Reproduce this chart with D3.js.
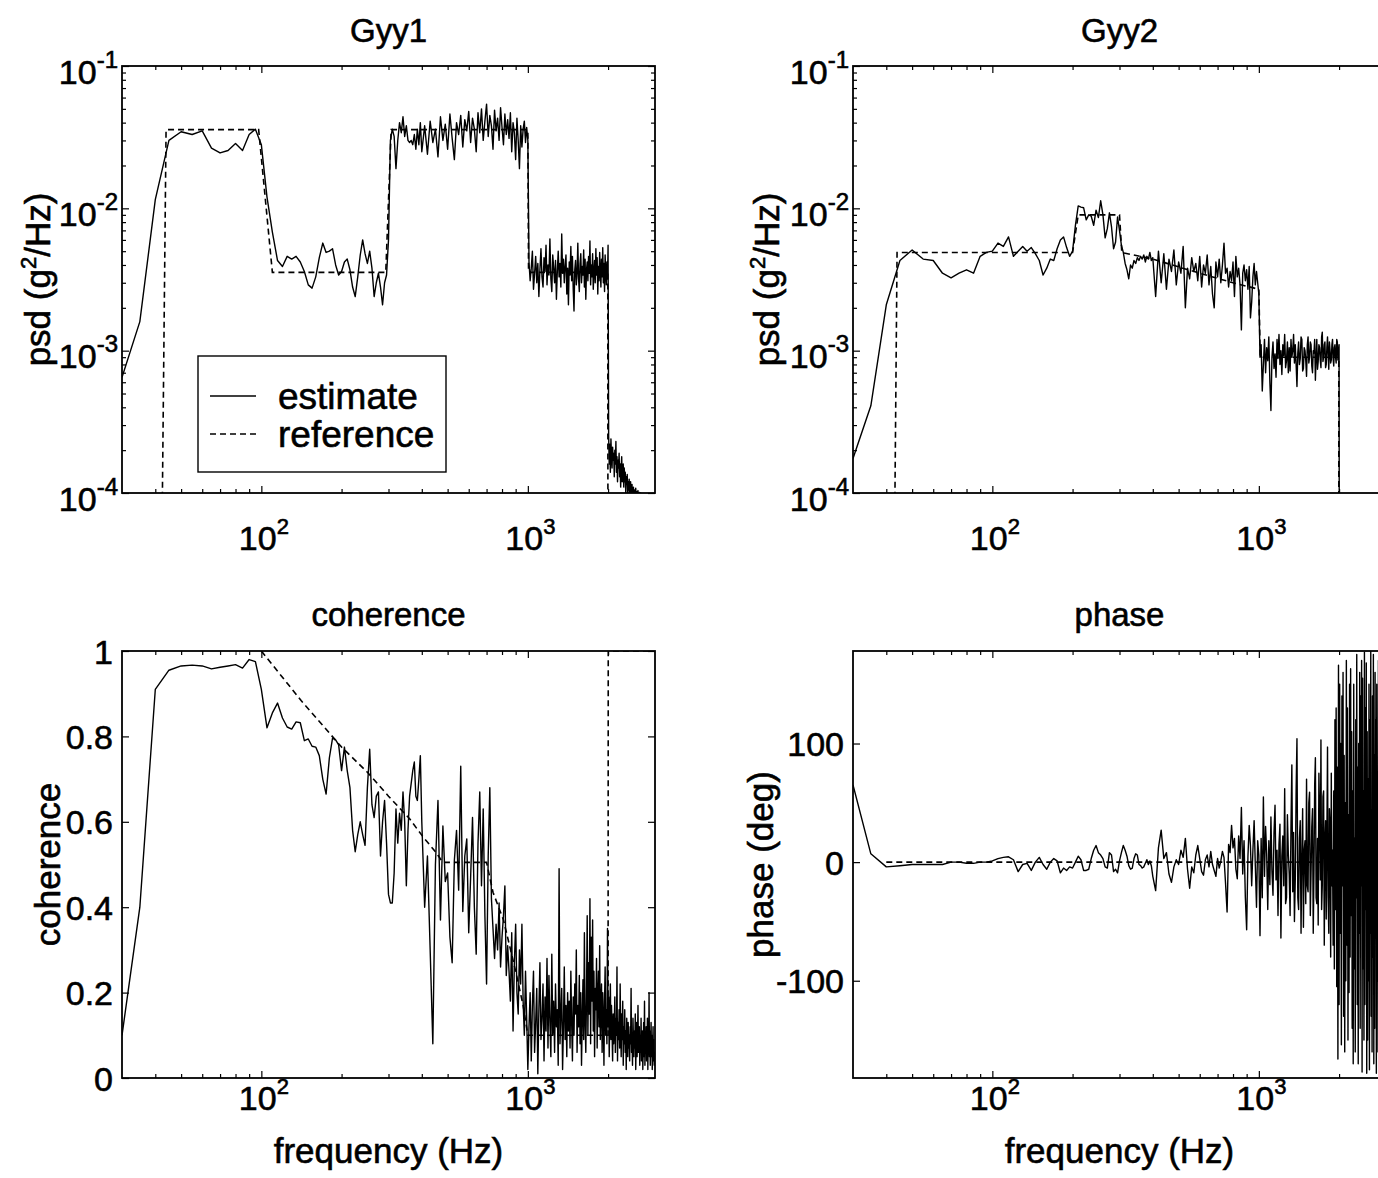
<!DOCTYPE html>
<html><head><meta charset="utf-8">
<script src="https://cdn.jsdelivr.net/npm/d3@7"></script>
<style>
body{margin:0;background:#fff;}
svg text{font-family:"Liberation Sans",Arial,Helvetica,sans-serif;fill:#000;stroke:#000;stroke-width:0.6px;}
</style></head><body>
<svg id="chart" width="1378" height="1178"></svg>
<script>
// ---------- frequency grid (Hz) ----------
const freqLow = [30,35,40,45,50,55,60,65,70,75,80,85,90,95,100,105,110,115,120,125,130,135,140,145,150,155,160,165,170,175,180,185,190,195,200,205,210,215,220,225,230,235,240,245,250,255,260,265,270,275,280,285,290,295,300,305,310,315,320,325,330,335,340,345,350,355,360,365,370,375,380,385,390,395,400];
const freqMid = [410,420,430,440,450,460,470,480,490,500,510,520,530,540,550,560,570,580,590,600,610,620,630,640,650,660,670,680,690,700,710,720,730,740,750,760,770,780,790,800,810,820,830,840,850,860,870,880,890,900,910,920,930,940,950,960,970,980,990,1000];
const freqHigh = [
 1010,1020,1030,1040,1050,1060,1070,1080,1090,1100,1110,1120,1130,1140,1150,1160,1170,1180,1190,1200,
 1210,1220,1230,1240,1250,1260,1270,1280,1290,1300,1310,1320,1330,1340,1350,1360,1370,1380,1390,1400,
 1410,1420,1430,1440,1450,1460,1470,1480,1490,1500,1510,1520,1530,1540,1550,1560,1570,1580,1590,1600,
 1610,1620,1630,1640,1650,1660,1670,1680,1690,1700,1710,1720,1730,1740,1750,1760,1770,1780,1790,1800,
 1810,1820,1830,1840,1850,1860,1870,1880,1890,1900,1910,1920,1930,1940,1950,1960,1970,1980,1990,2000,
 2010,2020,2030,2040,2050,2060,2070,2080,2090,2100,2110,2120,2130,2140,2150,2160,2170,2180,2190,2200,
 2210,2220,2230,2240,2250,2260,2270,2280,2290,2300,2310,2320,2330,2340,2350,2360,2370,2380,2390,2400,
 2410,2420,2430,2440,2450,2460,2470,2480,2490,2500,2510,2520,2530,2540,2550,2560,2570,2580,2590,2600,
 2610,2620,2630,2640,2650,2660,2670,2680,2690,2700,2710,2720,2730,2740,2750,2760,2770,2780,2790,2800,
 2810,2820,2830,2840,2850,2860,2870,2880,2890,2900,2910,2920,2930,2940,2950,2960,2970,2980,2990,3000];

// ---------- Gyy1 estimate (g^2/Hz) ----------
const gyy1Estimate = [
 6.5e-4,1.6e-3,1.15e-2,3.0e-2,3.45e-2,3.3e-2,3.5e-2,2.65e-2,2.45e-2,2.55e-2,
 2.85e-2,2.55e-2,3.3e-2,3.6e-2,2.8e-2,1.2e-2,6.8e-3,4.3e-3,3.9e-3,4.6e-3,
 4.4e-3,4.6e-3,4.2e-3,3.6e-3,2.9e-3,2.75e-3,3.3e-3,4.5e-3,5.7e-3,4.9e-3,
 5.0e-3,5.2e-3,4.0e-3,3.4e-3,3.6e-3,4.2e-3,4.4e-3,3.7e-3,2.8e-3,2.4e-3,
 3.3e-3,4.7e-3,6.0e-3,4.8e-3,4.1e-3,5.0e-3,3.8e-3,2.4e-3,3.0e-3,3.5e-3,
 2.8e-3,2.1e-3,3.0e-3,3.4e-3,6.0e-3,3.0e-2,3.6e-2,3.2e-2,1.9e-2,3.0e-2,
 4.0e-2,3.4e-2,4.4e-2,3.2e-2,3.8e-2,3.0e-2,2.9e-2,3.0e-2,2.8e-2,3.3e-2,
 2.6e-2,3.6e-2,2.8e-2,4.0e-2,2.5e-2,
 0.038,0.024,0.041,0.029,0.036,0.023,0.044,0.030,0.039,0.026,
 0.046,0.031,0.022,0.040,0.033,0.045,0.027,0.042,0.035,0.048,
 0.029,0.043,0.036,0.025,0.047,0.034,0.050,0.030,0.041,0.054,
 0.032,0.045,0.038,0.026,0.049,0.035,0.043,0.030,0.051,0.037,
 0.028,0.046,0.033,0.042,0.031,0.047,0.025,0.040,0.034,0.022,
 0.043,0.030,0.019,0.038,0.027,0.036,0.041,0.029,0.037,0.030,
 0.0042,0.0031,0.0038,0.0050,0.0027,0.0035,0.0046,0.0030,0.0041,0.0024,
 0.0037,0.0052,0.0033,0.0028,0.0045,0.0036,0.0055,0.0029,0.0040,0.0034,
 0.0061,0.0032,0.0026,0.0047,0.0038,0.0030,0.0043,0.0023,0.0036,0.0050,
 0.0033,0.0041,0.0028,0.0066,0.0035,0.0044,0.0030,0.0039,0.0047,0.0025,
 0.0038,0.0021,0.0042,0.0034,0.0054,0.0031,0.0046,0.0027,0.0019,0.0037,
 0.0043,0.0029,0.0035,0.0057,0.0032,0.0026,0.0041,0.0048,0.0030,0.0039,
 0.0034,0.0051,0.0028,0.0044,0.0023,0.0037,0.0042,0.0031,0.0046,0.0035,
 0.0059,0.0029,0.0040,0.0033,0.0048,0.0027,0.0036,0.0043,0.0030,0.0052,
 0.0034,0.0045,0.0025,0.0039,0.0031,0.0049,0.0036,0.0028,0.0044,0.0033,
 0.0053,0.0030,0.0041,0.0026,0.0047,0.0035,0.0029,0.0042,0.0032,0.0055,
 2.5e-4,1.6e-4,2.2e-4,1.4e-4,2.4e-4,1.8e-4,1.5e-4,2.1e-4,1.7e-4,1.9e-4,
 1.3e-4,2.0e-4,1.6e-4,2.3e-4,1.4e-4,1.8e-4,1.2e-4,1.7e-4,1.5e-4,1.9e-4,
 1.3e-4,1.6e-4,1.1e-4,1.5e-4,1.8e-4,1.2e-4,1.4e-4,1.6e-4,1.1e-4,1.5e-4,
 1.2e-4,1.4e-4,1.0e-4,1.3e-4,1.15e-4,1.35e-4,0.95e-4,1.2e-4,1.05e-4,1.25e-4,
 0.95e-4,1.1e-4,1.2e-4,0.9e-4,1.05e-4,1.15e-4,0.88e-4,1.0e-4,1.1e-4,0.92e-4,
 1.05e-4,0.85e-4,1.0e-4,1.08e-4,0.9e-4,1.02e-4,0.82e-4,0.98e-4,1.04e-4,0.86e-4,
 0.96e-4,1.01e-4,0.8e-4,0.92e-4,1.0e-4,0.78e-4,0.9e-4,0.95e-4,0.75e-4,0.85e-4,
 0.7e-4,0.66e-4,0.62e-4,0.6e-4,0.57e-4,0.54e-4,0.52e-4,0.5e-4,0.47e-4,0.45e-4,
 0.43e-4,0.41e-4,0.39e-4,0.37e-4,0.35e-4,0.33e-4,0.31e-4,0.3e-4,0.28e-4,0.27e-4,
 0.26e-4,0.25e-4,0.24e-4,0.23e-4,0.22e-4,0.21e-4,0.2e-4,0.19e-4,0.18e-4,0.17e-4];

// ---------- Gyy2 estimate (g^2/Hz), ends at 2010 Hz ----------
const gyy2Estimate = [
 1.75e-4,4.1e-4,2.1e-3,4.3e-3,5.1e-3,4.4e-3,4.3e-3,3.5e-3,3.25e-3,3.5e-3,
 3.7e-3,3.5e-3,4.6e-3,4.9e-3,5.0e-3,5.7e-3,5.4e-3,6.3e-3,4.6e-3,5.0e-3,
 5.4e-3,5.0e-3,5.3e-3,4.8e-3,4.3e-3,3.4e-3,3.8e-3,4.4e-3,4.3e-3,5.2e-3,
 6.0e-3,6.3e-3,5.3e-3,4.6e-3,5.0e-3,7.6e-3,1.04e-2,1.02e-2,1.01e-2,8.3e-3,
 9.0e-3,8.8e-3,7.6e-3,9.7e-3,8.6e-3,1.13e-2,9.0e-3,6.2e-3,7.2e-3,9.3e-3,
 7.4e-3,5.2e-3,5.8e-3,8.7e-3,7.0e-3,5.5e-3,4.9e-3,4.1e-3,3.7e-3,3.2e-3,
 4.0e-3,3.8e-3,4.3e-3,4.1e-3,4.5e-3,4.3e-3,4.6e-3,4.4e-3,4.7e-3,4.2e-3,
 4.6e-3,4.4e-3,4.9e-3,4.3e-3,4.5e-3,
 0.0024,0.0050,0.0030,0.0048,0.0027,0.0044,0.0036,0.0051,0.0029,0.0042,
 0.0035,0.0054,0.0020,0.0038,0.0032,0.0045,0.0036,0.0041,0.0031,0.0046,
 0.0028,0.0040,0.0035,0.0047,0.0029,0.0039,0.0025,0.0020,0.0042,0.0033,
 0.0044,0.0030,0.0040,0.0057,0.0035,0.0038,0.0028,0.0036,0.0031,0.0042,
 0.0024,0.0046,0.0033,0.0038,0.0029,0.0014,0.0035,0.0040,0.0031,0.0037,
 0.0027,0.0039,0.0017,0.0022,0.0033,0.0041,0.0029,0.0036,0.0030,0.0025,
 9.0e-4,1.1e-3,5.2e-4,8.0e-4,1.2e-3,7.0e-4,1.05e-3,8.5e-4,1.25e-3,6.0e-4,
 3.8e-4,9.0e-4,1.15e-3,7.5e-4,9.5e-4,6.5e-4,1.2e-3,8.8e-4,1.3e-3,8.0e-4,
 1.0e-3,6.8e-4,1.1e-3,9.2e-4,1.3e-3,7.6e-4,8.5e-4,1.15e-3,7.0e-4,1.05e-3,
 7.2e-4,1.2e-3,9.0e-4,1.0e-3,1.3e-3,8.2e-4,1.1e-3,8.0e-4,5.6e-4,9.6e-4,
 1.15e-3,8.0e-4,8.8e-4,1.25e-3,1.2e-3,7.2e-4,7.5e-4,1.05e-3,1.0e-3,8.5e-4,
 6.6e-4,1.1e-3,1.25e-3,8.2e-4,9.0e-4,1.15e-3,1.1e-3,7.8e-4,7.0e-4,1.0e-3,
 9.6e-4,1.2e-3,6.2e-4,9.0e-4,1.2e-3,7.4e-4,8.4e-4,1.1e-3,1.05e-3,8.6e-4,
 7.6e-4,1.25e-3,1.35e-3,8.4e-4,9.0e-4,1.1e-3,1.15e-3,7.6e-4,8.0e-4,1.05e-3,
 1.25e-3,9.4e-4,7.4e-4,1.15e-3,1.0e-3,8.2e-4,8.6e-4,1.1e-3,1.2e-3,8.8e-4,
 7.8e-4,1.05e-3,1.1e-3,9.0e-4,8.2e-4,1.2e-3,1.15e-3,8.6e-4,9.5e-4,1.1e-3,
 1e-7];

// ---------- coherence estimate ----------
const coherenceEstimate = [
 0.10,0.40,0.91,0.955,0.965,0.967,0.965,0.958,0.962,0.965,
 0.968,0.96,0.98,0.975,0.91,0.82,0.855,0.878,0.843,0.822,
 0.817,0.834,0.832,0.79,0.794,0.777,0.775,0.755,0.70,0.665,
 0.75,0.796,0.792,0.78,0.72,0.775,0.72,0.68,0.58,0.53,
 0.57,0.60,0.57,0.545,0.68,0.77,0.64,0.61,0.66,0.67,
 0.52,0.60,0.65,0.55,0.43,0.41,0.41,0.48,0.63,0.55,
 0.62,0.58,0.67,0.60,0.45,0.58,0.66,0.69,0.72,0.74,
 0.66,0.65,0.70,0.755,0.60,
 0.40,0.52,0.30,0.08,0.50,0.65,0.37,0.59,0.46,0.48,
 0.33,0.27,0.51,0.58,0.44,0.73,0.39,0.52,0.56,0.34,
 0.47,0.61,0.40,0.29,0.55,0.67,0.45,0.63,0.38,0.22,
 0.52,0.68,0.42,0.35,0.28,0.36,0.30,0.41,0.26,0.33,
 0.38,0.45,0.24,0.31,0.25,0.18,0.34,0.11,0.27,0.36,
 0.20,0.15,0.30,0.22,0.36,0.18,0.10,0.25,0.14,0.02,
 0.12,0.20,0.04,0.17,0.25,0.06,0.13,0.21,0.01,0.16,
 0.27,0.09,0.14,0.22,0.04,0.19,0.11,0.28,0.07,0.24,
 0.13,0.05,0.29,0.10,0.18,0.06,0.22,0.12,0.16,0.03,
 0.49,0.08,0.15,0.21,0.02,0.12,0.26,0.09,0.17,0.05,
 0.20,0.11,0.18,0.07,0.25,0.13,0.04,0.19,0.10,0.22,
 0.15,0.30,0.06,0.17,0.12,0.24,0.08,0.20,0.03,0.14,
 0.23,0.09,0.34,0.13,0.06,0.19,0.38,0.10,0.27,0.15,
 0.42,0.08,0.33,0.18,0.37,0.11,0.25,0.05,0.21,0.16,
 0.28,0.07,0.19,0.25,0.12,0.31,0.09,0.17,0.22,0.06,
 0.20,0.14,0.03,0.18,0.26,0.10,0.16,0.08,0.35,0.12,
 0.19,0.05,0.14,0.22,0.09,0.17,0.11,0.04,0.15,0.08,
 0.12,0.19,0.06,0.14,0.10,0.26,0.04,0.13,0.09,0.16,
 0.07,0.22,0.11,0.05,0.15,0.09,0.18,0.03,0.12,0.08,
 0.16,0.06,0.11,0.02,0.14,0.09,0.05,0.13,0.07,0.10,
 0.04,0.12,0.08,0.21,0.06,0.10,0.03,0.14,0.09,0.05,
 0.11,0.07,0.15,0.02,0.09,0.13,0.05,0.10,0.17,0.06,
 0.08,0.12,0.03,0.10,0.06,0.14,0.04,0.09,0.11,0.02,
 0.07,0.13,0.05,0.18,0.03,0.10,0.06,0.12,0.04,0.08,
 0.14,0.02,0.09,0.06,0.20,0.05,0.11,0.03,0.08,0.13,
 0.05,0.10,0.02,0.07,0.12,0.04,0.09,0.03,0.06,0.04];

// ---------- phase estimate (deg) ----------
const phaseEstimate = [
 65,7,-4,-3,-2,-2,-2,-2,0,0,
 -1,-1,0,0,1,3,4,4.5,2,-8,
 -2,-1,-7,0,4,-2,-6,0,3,1,
 -9,-5,-7,-4,-5,0,5,2,-7,-7,
 -6,3,10,14,8,6,3,-4,-5,8,
 6,-8,-6,-9,1,8,14,10,5,-3,
 -6,-5,3,7,6,-2,-3,-5,-4,-1,
 2,-2,1,-3,-12,
 -24,12,27,3,8,-10,-17,-4,2,-2,
 10,4,20,-6,-22,-4,-9,6,14,3,
 -8,-11,2,6,-4,9,-2,-7,-12,3,
 -5,1,9,4,-18,-42,15,8,31,12,
 20,-6,-14,22,3,46,-10,18,-30,-57,
 5,31,14,-20,10,35,-3,-38,18,6,
 -62,20,-30,55,-12,30,7,-40,18,-19,
 38,-8,-28,25,48,-15,10,-45,15,32,
 -64,5,22,-20,62,-35,-30,40,7,-10,
 -45,30,82,-25,25,-50,-15,60,104,-30,
 -40,20,35,-60,5,45,-55,10,18,-35,
 70,-20,-25,50,59,-45,-8,30,45,-60,
 -7,65,88,-30,-35,20,-53,75,40,-15,
 103,-40,-20,55,60,-70,18,35,-48,20,
 97,-30,-60,45,30,-80,75,-20,10,-70,
 60,-90,120,-40,130,-105,80,-166,166,-120,
 150,-60,100,-154,140,-20,160,-130,90,-160,
 50,-100,170,-70,130,-150,40,-110,150,-80,
 163,-45,110,-140,60,-170,150,-90,20,-160,
 120,-30,175,-120,80,-170,100,-60,160,-140,
 140,-20,170,-177,155,-90,60,-150,177,-120,
 130,-40,168,-178,110,-150,70,-100,150,-175,
 120,-60,178,-130,30,-160,140,-80,175,-170,
 90,-140,160,-40,120,-178,150,-100,70,-160,
 170,-130,100,-60,178,-150,130,-175,50,-110,
 165,-140,90,-170,140,-70,178,-120,110,-160];

// ---------- reference curves ----------
const gyy1RefFreq = [41.5,43.9,97.7,110,293,307,1000,1006,1995,2000];
const gyy1RefValue = [1e-6,0.0357,0.0357,0.00355,0.00355,0.0357,0.0357,0.00355,0.00355,1e-6];
const gyy2RefFreq = [42.2,43.9,200,210,300,306,400,600,800,1000,1012,1995,2000];
const gyy2RefValue = [1e-6,0.0049,0.0049,0.009,0.009,0.0049,0.0044,0.0035,0.003,0.0027,0.0009,0.0009,1e-7];
const cohRefFreq = [100,141,200,250,300,360,405,450,480,700,740,810,900,960,1000,2000,2003,3000];
const cohRefValue = [1.0,0.884,0.775,0.716,0.66,0.607,0.564,0.53,0.505,0.505,0.435,0.37,0.25,0.17,0.10,0.10,1.0,1.0];
const phaseRefFreq = [40,3000];
const phaseRefValue = [0,0];

// ---------- ticks ----------
const xMajorTicks = [100,1000];
const xTickExp = ['2','3'];
const xMinorTicks = [40,50,60,70,80,90,200,300,400,500,600,700,800,900,2000];
const psdMajorTicks = [1e-4,1e-3,1e-2,1e-1];
const psdTickExp = ['-4','-3','-2','-1'];
const psdMinorTicks = [2e-4,3e-4,4e-4,5e-4,6e-4,7e-4,8e-4,9e-4,2e-3,3e-3,4e-3,5e-3,6e-3,7e-3,8e-3,9e-3,2e-2,3e-2,4e-2,5e-2,6e-2,7e-2,8e-2,9e-2];
const cohTicks = [0,0.2,0.4,0.6,0.8,1];
const cohTickLabels = ['0','0.2','0.4','0.6','0.8','1'];
const phaseTicks = [-100,0,100];
const phaseTickLabels = ['-100','0','100'];

// ---------- drawing ----------
const svg = d3.select('#chart');
svg.append('rect').attr('width',1378).attr('height',1178).attr('fill','#fff');
const frequency = freqLow.concat(freqMid, freqHigh);

const TITLE = 33, TICK = 34, EXP = 24, LABEL = 35, LEG = 37;

function supText(sel, base, exp, tail, rise, expSize) {
  rise = rise || 16;
  sel.text(null);
  sel.append('tspan').text(base);
  sel.append('tspan').attr('font-size', expSize || EXP).attr('dy', -rise).text(exp);
  if (tail) sel.append('tspan').attr('dy', rise).text(tail);
}

function drawPanel(cfg) {
  const g = svg.append('g');
  const x = d3.scaleLog().domain([30,3000]).range([cfg.x0, cfg.x1]);
  const y = cfg.yLog
    ? d3.scaleLog().domain(cfg.yDomain).range([cfg.y1, cfg.y0])
    : d3.scaleLinear().domain(cfg.yDomain).range([cfg.y1, cfg.y0]);

  const clipId = 'clip-' + cfg.id;
  svg.append('clipPath').attr('id', clipId).append('rect')
    .attr('x', cfg.x0).attr('y', cfg.y0).attr('width', cfg.x1 - cfg.x0).attr('height', cfg.y1 - cfg.y0);

  const line = d3.line().x(d => x(d[0])).y(d => y(d[1]));
  const plot = g.append('g').attr('clip-path', `url(#${clipId})`);
  plot.append('path')
    .datum(cfg.refFreq.map((f, i) => [f, cfg.refValue[i]]))
    .attr('d', line).attr('fill','none').attr('stroke','#000').attr('stroke-width',1.6)
    .attr('stroke-dasharray','6,4');
  plot.append('path')
    .datum(cfg.est.map((v, i) => [frequency[i], v]))
    .attr('d', line).attr('fill','none').attr('stroke','#000').attr('stroke-width',1.4)
    .attr('stroke-linejoin','round');

  // ticks (inward, on all four sides)
  const strip = s => s.call(a => a.select('.domain').remove());
  const tk = g.append('g').attr('stroke-width',1.2);
  const sides = [
    [d3.axisBottom, `translate(0,${cfg.y1})`, x, xMajorTicks, xMinorTicks],
    [d3.axisTop, `translate(0,${cfg.y0})`, x, xMajorTicks, xMinorTicks],
    [d3.axisLeft, `translate(${cfg.x0},0)`, y, cfg.yMajor, cfg.yMinor],
    [d3.axisRight, `translate(${cfg.x1},0)`, y, cfg.yMajor, cfg.yMinor]
  ];
  sides.forEach(([ax, tr, sc, maj, min]) => {
    tk.append('g').attr('transform', tr).call(ax(sc).tickValues(maj).tickSize(-7).tickFormat('')).call(strip);
    if (min.length) tk.append('g').attr('transform', tr).call(ax(sc).tickValues(min).tickSize(-4).tickFormat('')).call(strip);
  });

  // frame
  g.append('rect').attr('x', cfg.x0).attr('y', cfg.y0).attr('width', cfg.x1 - cfg.x0).attr('height', cfg.y1 - cfg.y0)
    .attr('fill','none').attr('stroke','#000').attr('stroke-width',1.8);

  // x tick labels
  const xl = g.append('g').attr('transform', `translate(0,${cfg.xLabelY})`)
    .call(d3.axisBottom(x).tickValues(xMajorTicks).tickSize(0)).call(strip);
  xl.selectAll('text').attr('y', 0).attr('dy', null).attr('x', 2)
    .attr('font-size', TICK).attr('font-family', null)
    .each(function(d, i) { supText(d3.select(this), '10', xTickExp[i], null, 16, 22); });

  // y tick labels
  const yl = g.append('g').attr('transform', `translate(${cfg.x0 - cfg.yLabelGap},0)`)
    .call(d3.axisLeft(y).tickValues(cfg.yMajor).tickSize(0)).call(strip);
  yl.selectAll('text').attr('x', 0).attr('dy', null).attr('font-size', TICK).attr('font-family', null)
    .attr('text-anchor','end')
    .attr('y', cfg.yLog ? 17 : 12)
    .each(function(d, i) {
      if (cfg.yLog) supText(d3.select(this), '10', psdTickExp[i]);
      else d3.select(this).text(cfg.yTickLabels[i]);
    });

  // title
  g.append('text').attr('x', (cfg.x0 + cfg.x1) / 2).attr('y', cfg.titleY)
    .attr('text-anchor','middle').attr('font-size', TITLE).text(cfg.title);

  // y label
  const yt = g.append('text').attr('transform', `translate(${cfg.yTitleX},${(cfg.y0 + cfg.y1) / 2}) rotate(-90)`)
    .attr('text-anchor','middle').attr('font-size', LABEL);
  if (cfg.yTitleSup) supText(yt, cfg.yTitle[0], cfg.yTitleSup, cfg.yTitle[1], 14, 22);
  else yt.text(cfg.yTitle);

  // x label
  if (cfg.xTitle) g.append('text').attr('x', (cfg.x0 + cfg.x1) / 2).attr('y', cfg.xTitleY)
    .attr('text-anchor','middle').attr('font-size', LABEL).text(cfg.xTitle);
  return {x, y, g};
}

const top0 = 66, top1 = 493, bot0 = 651, bot1 = 1078;
const L0 = 122, L1 = 655, R0 = 853, R1 = 1386;

drawPanel({id:'gyy1', x0:L0, x1:L1, y0:top0, y1:top1, yLog:true, yDomain:[1e-4,1e-1],
  yMajor:psdMajorTicks, yMinor:psdMinorTicks, yLabelGap:4, est:gyy1Estimate,
  refFreq:gyy1RefFreq, refValue:gyy1RefValue, title:'Gyy1', titleY:42,
  yTitle:['psd (g','/Hz)'], yTitleSup:'2', yTitleX:50, xLabelY:550});
drawPanel({id:'gyy2', x0:R0, x1:R1, y0:top0, y1:top1, yLog:true, yDomain:[1e-4,1e-1],
  yMajor:psdMajorTicks, yMinor:psdMinorTicks, yLabelGap:4, est:gyy2Estimate,
  refFreq:gyy2RefFreq, refValue:gyy2RefValue, title:'Gyy2', titleY:42,
  yTitle:['psd (g','/Hz)'], yTitleSup:'2', yTitleX:779, xLabelY:550});
drawPanel({id:'coh', x0:L0, x1:L1, y0:bot0, y1:bot1, yLog:false, yDomain:[0,1],
  yMajor:cohTicks, yMinor:[], yTickLabels:cohTickLabels, yLabelGap:9, est:coherenceEstimate,
  refFreq:cohRefFreq, refValue:cohRefValue, title:'coherence', titleY:626,
  yTitle:'coherence', yTitleX:60, xLabelY:1110, xTitle:'frequency (Hz)', xTitleY:1163});
drawPanel({id:'phase', x0:R0, x1:R1, y0:bot0, y1:bot1, yLog:false, yDomain:[-182,178],
  yMajor:phaseTicks, yMinor:[], yTickLabels:phaseTickLabels, yLabelGap:9, est:phaseEstimate,
  refFreq:phaseRefFreq, refValue:phaseRefValue, title:'phase', titleY:626,
  yTitle:'phase (deg)', yTitleX:773, xLabelY:1110, xTitle:'frequency (Hz)', xTitleY:1163});

// legend (Gyy1 panel)
const legendLabels = ['estimate','reference'];
const lg = svg.append('g');
lg.append('rect').attr('x',198).attr('y',356).attr('width',248).attr('height',116)
  .attr('fill','#fff').attr('stroke','#000').attr('stroke-width',1.4);
legendLabels.forEach((lab, i) => {
  const yy = 396 + i * 38;
  lg.append('line').attr('x1',210).attr('x2',256).attr('y1',yy).attr('y2',yy)
    .attr('stroke','#000').attr('stroke-width',1.3).attr('stroke-dasharray', i ? '6,4' : null);
  lg.append('text').attr('x',278).attr('y',yy + 13).attr('font-size',LEG).text(lab);
});
</script>
</body></html>
